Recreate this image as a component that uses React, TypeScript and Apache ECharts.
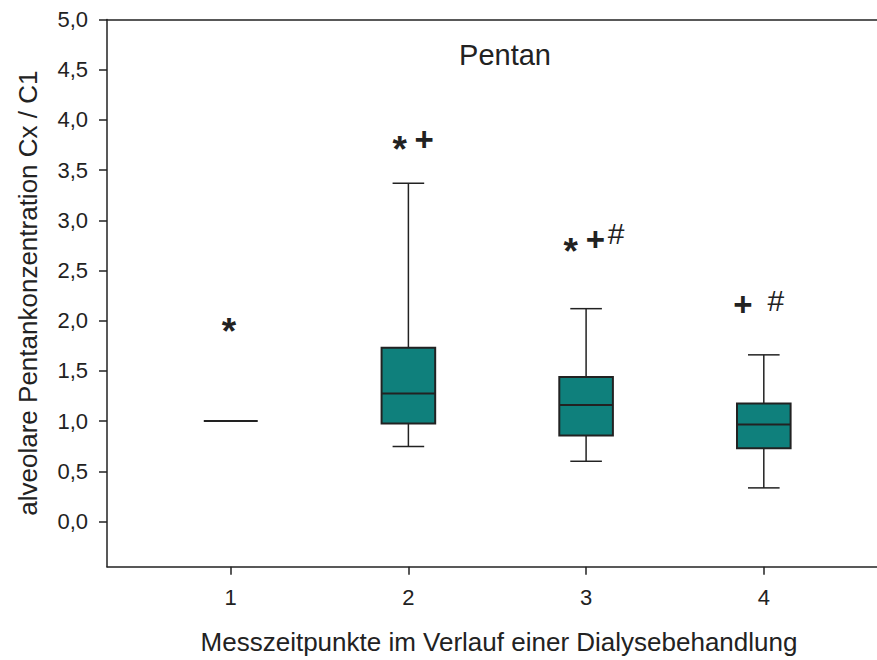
import React, { useEffect, useRef } from "react";
import * as echarts from "echarts";

// Messzeitpunkte (x positions of the boxes)
const categories = [1, 2, 3, 4];
// Box-plot statistics
const whiskerLow = [1.0, 0.747, 0.6, 0.335];
const quartile1 = [1.0, 0.976, 0.857, 0.73];
const medians = [1.0, 1.275, 1.16, 0.966];
const quartile3 = [1.0, 1.73, 1.44, 1.175];
const whiskerHigh = [1.0, 3.37, 2.12, 1.66];

// Significance markers
const markX = [0.99, 1.951, 2.089, 2.914, 3.053, 3.169, 3.882, 4.068];
const markY = [1.974, 3.782, 3.807, 2.773, 2.806, 2.873, 2.158, 2.2];
const markText = ["*", "*", "+", "*", "+", "#", "+", "#"];

// Tick values
const yTicks = [0, 0.5, 1, 1.5, 2, 2.5, 3, 3.5, 4, 4.5, 5];
const xTicks = [1, 2, 3, 4];

const FONT = '"Liberation Sans", Arial, Helvetica, sans-serif';
const INK = "#222222";
const TEAL = "#0f807c";

const glyphStyle: Record<string, any> = {
  "*": { fontSize: 37, fontWeight: "bold", offset: [0, 8] },
  "+": { fontSize: 33, fontWeight: "bold", offset: [0, 0] },
  "#": { fontSize: 30, fontWeight: "normal", offset: [0, 0] },
};

export default function App() {
  const ref = useRef<HTMLDivElement>(null);

  useEffect(() => {
    document.body.style.margin = "0";
    if (!ref.current) return;
    const chart = echarts.init(ref.current, undefined, { renderer: "svg" });

    const boxData = categories.map((c, i) => [
      c,
      whiskerLow[i],
      quartile1[i],
      medians[i],
      quartile3[i],
      whiskerHigh[i],
    ]);

    const markData = markX.map((x, i) => {
      const g = glyphStyle[markText[i]];
      return {
        name: markText[i],
        value: [x, markY[i]],
        label: {
          fontSize: g.fontSize,
          fontWeight: g.fontWeight,
          offset: g.offset,
          color: INK,
          opacity: 1,
        },
      };
    });

    const option: any = {
      animation: false,
      title: {
        text: "Pentan",
        left: 505,
        top: 40,
        padding: 0,
        textAlign: "center",
        textStyle: {
          fontFamily: FONT,
          fontSize: 29,
          fontWeight: "normal",
          color: INK,
        },
      },
      grid: { left: 107, right: 0, top: 19.5, bottom: 93.3 },
      xAxis: [
        {
          type: "value",
          min: 0.304,
          max: 4.637,
          name: "Messzeitpunkte im Verlauf einer Dialysebehandlung",
          nameLocation: "middle",
          nameGap: 62,
          nameTextStyle: { fontFamily: FONT, fontSize: 26, color: INK, padding: [0, 0, 0, 14] },
          axisLine: { show: true, onZero: false, lineStyle: { color: INK, width: 1.5 } },
          axisTick: {
            show: true,
            length: 8,
            customValues: xTicks,
            lineStyle: { color: INK, width: 1.5 },
          },
          axisLabel: {
            show: true,
            customValues: xTicks,
            margin: 20,
            fontFamily: FONT,
            fontSize: 22,
            color: INK,
          },
          splitLine: { show: false },
        },
        {
          type: "value",
          position: "top",
          min: 0.304,
          max: 4.637,
          axisLine: { show: true, onZero: false, lineStyle: { color: INK, width: 1.5 } },
          axisTick: { show: false },
          axisLabel: { show: false },
          splitLine: { show: false },
        },
      ],
      yAxis: {
        type: "value",
        min: -0.45,
        max: 5,
        name: "alveolare Pentankonzentration Cx / C1",
        nameLocation: "middle",
        nameRotate: 90,
        nameGap: 66,
        nameTextStyle: { fontFamily: FONT, fontSize: 26, color: INK },
        axisLine: { show: true, onZero: false, lineStyle: { color: INK, width: 1.5 } },
        axisTick: {
          show: true,
          length: 8,
          customValues: yTicks,
          lineStyle: { color: INK, width: 1.5 },
        },
        axisLabel: {
          show: true,
          customValues: yTicks,
          margin: 19,
          fontFamily: FONT,
          fontSize: 22,
          color: INK,
          formatter: (v: number) => v.toFixed(1).replace(".", ","),
        },
        splitLine: { show: false },
      },
      series: [
        {
          type: "custom",
          xAxisIndex: 0,
          data: boxData,
          encode: { x: 0, y: [1, 2, 3, 4, 5] },
          renderItem: (params: any, api: any) => {
            const x = api.value(0);
            const lo = api.coord([x, api.value(1)]);
            const b1 = api.coord([x, api.value(2)]);
            const md = api.coord([x, api.value(3)]);
            const b3 = api.coord([x, api.value(4)]);
            const hi = api.coord([x, api.value(5)]);
            const cx = lo[0];
            const halfBox = 26.8;
            const halfCap = 15.8;
            const thin = { stroke: INK, lineWidth: 1.5 };
            const thick = { stroke: INK, lineWidth: 2 };
            return {
              type: "group",
              children: [
                { type: "line", shape: { x1: cx, y1: b3[1], x2: cx, y2: hi[1] }, style: thin },
                { type: "line", shape: { x1: cx, y1: b1[1], x2: cx, y2: lo[1] }, style: thin },
                { type: "line", shape: { x1: cx - halfCap, y1: hi[1], x2: cx + halfCap, y2: hi[1] }, style: thin },
                { type: "line", shape: { x1: cx - halfCap, y1: lo[1], x2: cx + halfCap, y2: lo[1] }, style: thin },
                {
                  type: "rect",
                  shape: { x: cx - halfBox, y: b3[1], width: 2 * halfBox, height: b1[1] - b3[1] },
                  style: { fill: TEAL, stroke: INK, lineWidth: 2 },
                },
                { type: "line", shape: { x1: cx - halfBox, y1: md[1], x2: cx + halfBox, y2: md[1] }, style: thick },
              ],
            };
          },
        },
        {
          type: "scatter",
          xAxisIndex: 0,
          symbol: "circle",
          symbolSize: 1,
          itemStyle: { color: "rgba(0,0,0,0)", opacity: 1 },
          data: markData,
          label: {
            show: true,
            position: "inside",
            formatter: (p: any) => p.name,
            fontFamily: FONT,
            color: INK,
            opacity: 1,
            align: "center",
            verticalAlign: "middle",
          },
          emphasis: { disabled: true },
        },
      ],
    };

    chart.setOption(option);
    return () => chart.dispose();
  }, []);

  return <div ref={ref} style={{ width: 877, height: 660 }} />;
}
